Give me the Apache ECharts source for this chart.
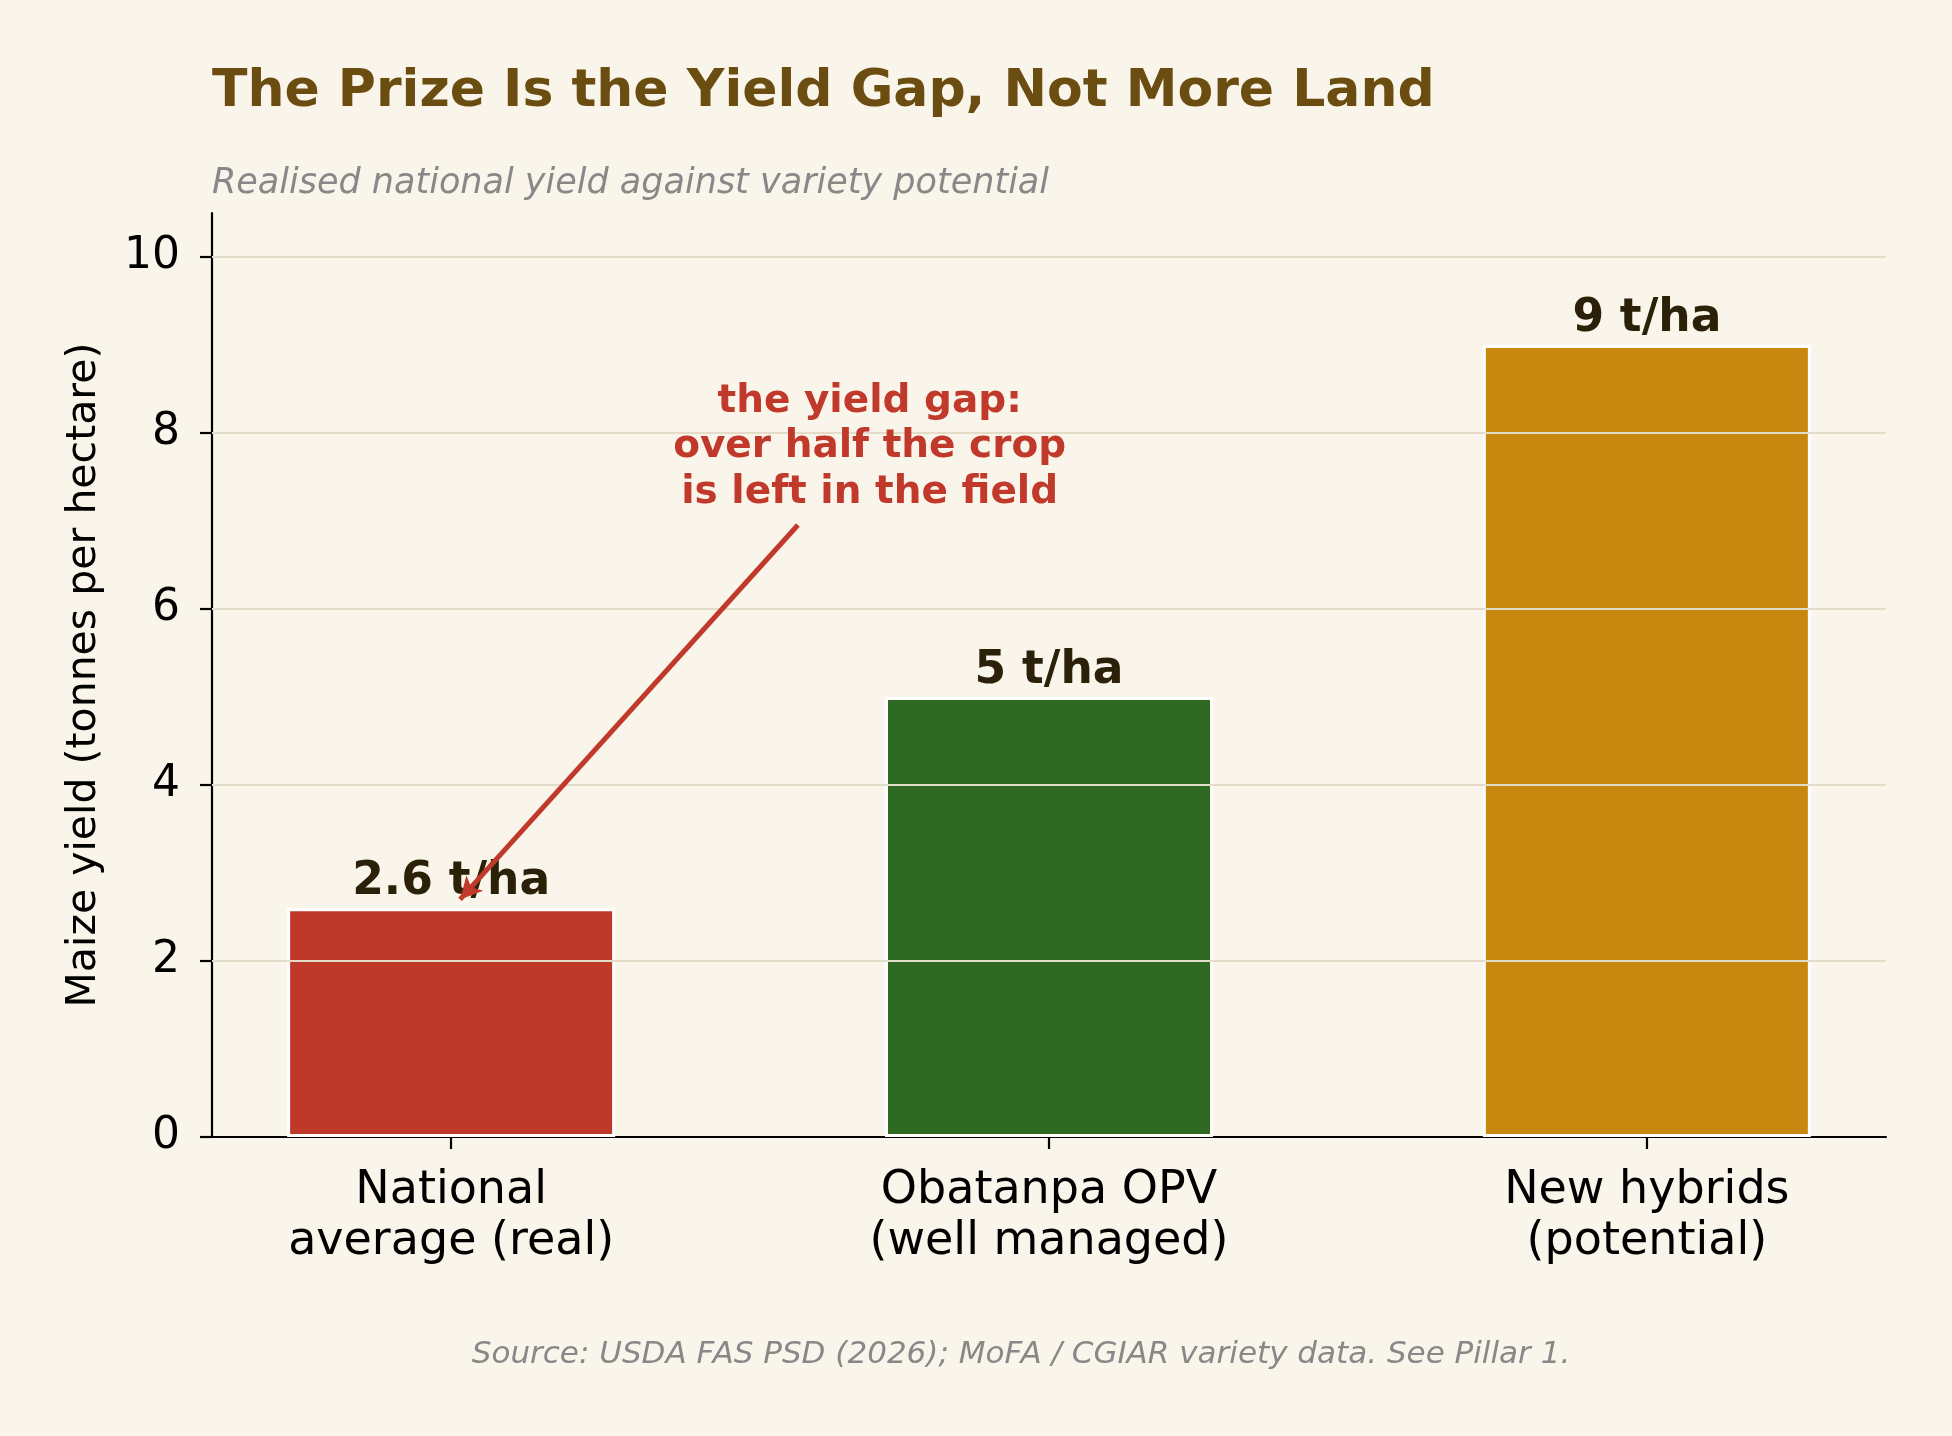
<!DOCTYPE html>
<html><head><meta charset="utf-8">
<script src="https://cdn.jsdelivr.net/npm/echarts@6/dist/echarts.min.js"></script>
<style>html,body{margin:0;padding:0;background:#faf5ea}#c{width:1952px;height:1436px}</style>
</head><body><div id="c"></div>
<script>
// ---- data ----
const categories = ['National\naverage (real)', 'Obatanpa OPV\n(well managed)', 'New hybrids\n(potential)'];
const yields = [2.6, 5, 9];
const unit = 't/ha';
const xTicks = [0, 1, 2];
const yTicks = [0, 2, 4, 6, 8, 10];
const yMax = 10.5;
const xMin = -0.4, xMax = 2.4;
const titleText = 'The Prize Is the Yield Gap, Not More Land';
const subtitleText = 'Realised national yield against variety potential';
const yAxisTitle = 'Maize yield (tonnes per hectare)';
const sourceText = 'Source: USDA FAS PSD (2026); MoFA / CGIAR variety data. See Pillar 1.';
const annotationLines = ['the yield gap:', 'over half the crop', 'is left in the field'];
const annotationAnchor = [0.7, 7.065];
const arrowStart = [0.58, 6.955];
const arrowEnd = [0.015, 2.7];

// ---- style ----
const FONT = "'DejaVu Sans', sans-serif";
const barColors = ['#bf392b', '#2e6a22', '#c8870e'];
const BG = '#faf5ea';
const GRID = '#e3dcc8';
const AX = '#000000';
const ACCENT = '#c0392b';

const chart = echarts.init(document.getElementById('c'), null, {renderer: 'canvas'});
chart.setOption({
  backgroundColor: BG,
  animation: false,
  grid: {left: 212, right: 66, top: 213, bottom: 299, containLabel: false, outerBoundsMode: 'none'},
  graphic: [
    {type: 'text', x: 212, y: 66, style: {text: titleText, font: "bold 52px " + FONT, fill: '#6b4c11', align: 'left', verticalAlign: 'top'}},
    {type: 'text', x: 212, y: 166, style: {text: subtitleText, font: "italic 35px " + FONT, fill: '#888888', align: 'left', verticalAlign: 'top'}},
    {type: 'text', x: 1021, y: 1339, style: {text: sourceText, font: "italic 31px " + FONT, fill: '#888888', align: 'center', verticalAlign: 'top'}}
  ],
  xAxis: {
    type: 'value', min: xMin, max: xMax,
    axisLine: {show: true, onZero: false, lineStyle: {color: AX, width: 2.2}},
    axisTick: {show: true, length: 12, customValues: xTicks, lineStyle: {color: AX, width: 2.2}},
    axisLabel: {customValues: xTicks, formatter: v => categories[Math.round(v)], fontFamily: FONT, fontSize: 46, lineHeight: 51, color: '#000', margin: 29},
    splitLine: {show: false}
  },
  yAxis: {
    type: 'value', min: 0, max: yMax,
    name: yAxisTitle, nameLocation: 'middle', nameGap: 107,
    nameTextStyle: {fontFamily: FONT, fontSize: 41, color: '#000'},
    axisLine: {show: true, onZero: false, lineStyle: {color: AX, width: 2.2}},
    axisTick: {show: true, length: 12, customValues: yTicks, lineStyle: {color: AX, width: 2.2}},
    axisLabel: {customValues: yTicks, fontFamily: FONT, fontSize: 44, color: '#000', margin: 32},
    splitLine: {show: false}
  },
  series: [
    {
      type: 'bar', z: 2,
      data: yields.map((v, i) => ({value: [xTicks[i], v], itemStyle: {color: barColors[i]}})),
      barWidth: 328,
      itemStyle: {borderColor: '#ffffff', borderWidth: 3},
      label: {show: true, position: 'top', distance: 3, formatter: p => p.value[1] + ' ' + unit,
        fontFamily: FONT, fontSize: 45.5, fontWeight: 'bold', color: '#2b2109'}
    },
    {
      type: 'line', z: 3, silent: true,
      data: yields.map((v, i) => [xTicks[i], v]),
      showSymbol: false, lineStyle: {opacity: 0},
      markLine: {
        z: 3, silent: true, symbol: ['none', 'none'], label: {show: false},
        lineStyle: {color: GRID, width: 2, type: 'solid'},
        data: yTicks.filter(v => v > 0).map(v => ({yAxis: v}))
      }
    },
    {
      type: 'scatter', z: 6, silent: true,
      data: [annotationAnchor], symbolSize: 0,
      itemStyle: {opacity: 1, color: ACCENT},
      label: {show: true, position: 'top', distance: 0, formatter: annotationLines.join('\n'),
        fontFamily: FONT, fontSize: 39, fontWeight: 'bold', lineHeight: 45.5, color: ACCENT, align: 'center', opacity: 1},
      markLine: {
        z: 7, silent: true, symbol: ['none', 'arrow'], symbolSize: [17, 22], label: {show: false},
        itemStyle: {opacity: 1, color: ACCENT},
        lineStyle: {color: ACCENT, width: 5, type: 'solid', opacity: 1},
        data: [[{coord: arrowStart}, {coord: arrowEnd}]]
      }
    }
  ]
});
</script></body></html>
